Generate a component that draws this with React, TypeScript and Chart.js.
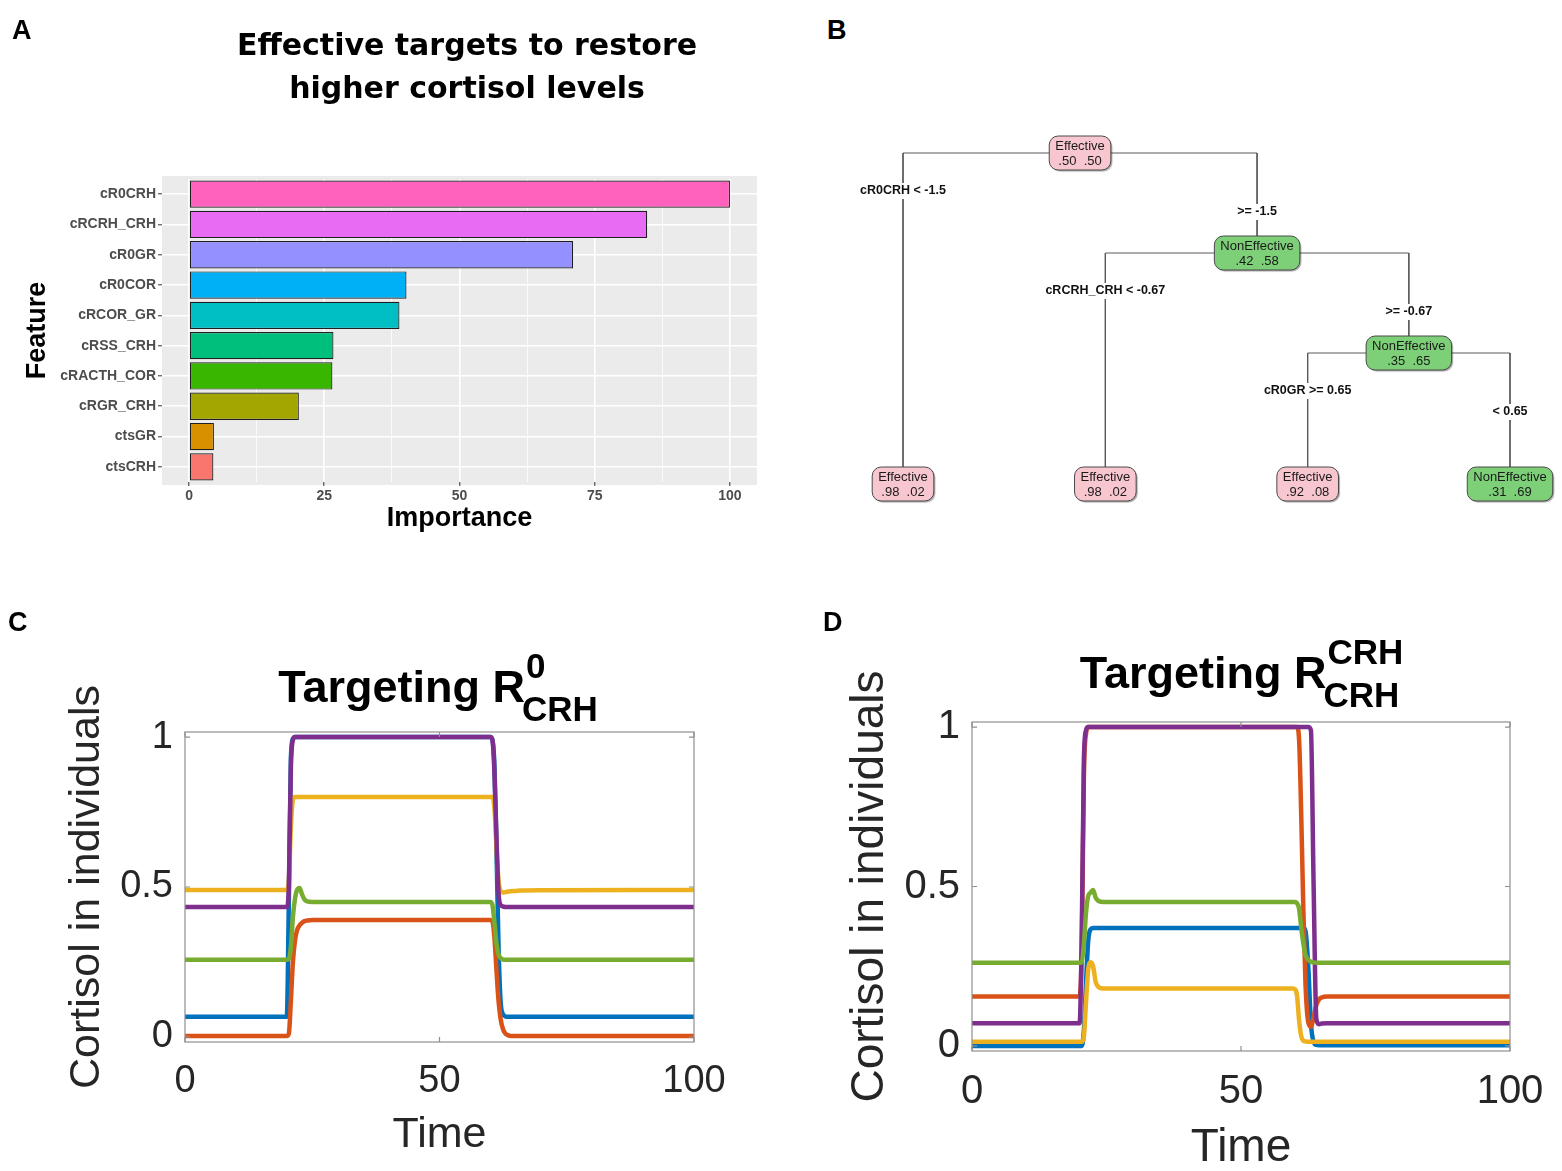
import React, { useEffect, useRef } from 'react';
import { Chart, registerables } from 'chart.js';

Chart.register(...registerables);

const FONT = "'Liberation Sans', Arial, sans-serif";

// ---------- Panel A: feature importance ----------
const features = ['cR0CRH', 'cRCRH_CRH', 'cR0GR', 'cR0COR', 'cRCOR_GR', 'cRSS_CRH', 'cRACTH_COR', 'cRGR_CRH', 'ctsGR', 'ctsCRH'];
const importance = [100, 84.7, 71.0, 40.2, 38.9, 26.7, 26.5, 20.3, 4.6, 4.5];
const featureColors = ['#FF62BC', '#E76BF3', '#9590FF', '#00B0F6', '#00BFC4', '#00BF7D', '#39B600', '#A3A500', '#D89000', '#F8766D'];
const importanceMajor = [0, 25, 50, 75, 100];
const importanceMinor = [12.5, 37.5, 62.5, 87.5];
const titleA = ['Effective targets to restore', 'higher cortisol levels'];

// ---------- Panel B: decision tree ----------
const nodeClass = ['Effective', 'Effective', 'NonEffective', 'Effective', 'NonEffective', 'Effective', 'NonEffective'];
const nodeProbEff = [0.50, 0.98, 0.42, 0.98, 0.35, 0.92, 0.31];
const nodeProbNon = [0.50, 0.02, 0.58, 0.02, 0.65, 0.08, 0.69];
const nodeParent = [-1, 0, 0, 2, 2, 4, 4];
const edgeLabel = ['', 'cR0CRH < -1.5', '>= -1.5', 'cRCRH_CRH < -0.67', '>= -0.67', 'cR0GR >= 0.65', '< 0.65'];

// ---------- Panel C: Targeting R0_CRH ----------
const timeC = [0, 20, 20.4, 20.8, 21.2, 21.6, 22, 22.5, 23, 23.5, 24, 25, 26, 30, 60, 60.4, 60.8, 61.2, 61.6, 62, 62.5, 63, 63.5, 64, 65, 66, 70, 100];
const blueC = [0.067, 0.067, 0.45, 0.93, 0.995, 1, 1, 1, 1, 1, 1, 1, 1, 1, 1, 0.99, 0.9, 0.62, 0.3, 0.12, 0.075, 0.068, 0.067, 0.067, 0.067, 0.067, 0.067, 0.067];
const redC = [0.003, 0.003, 0.01, 0.12, 0.25, 0.32, 0.355, 0.372, 0.381, 0.386, 0.388, 0.39, 0.39, 0.39, 0.39, 0.385, 0.33, 0.22, 0.12, 0.06, 0.025, 0.01, 0.005, 0.003, 0.003, 0.003, 0.003, 0.003];
const yellowC = [0.49, 0.49, 0.52, 0.7, 0.79, 0.8, 0.8, 0.8, 0.8, 0.8, 0.8, 0.8, 0.8, 0.8, 0.8, 0.8, 0.76, 0.63, 0.52, 0.487, 0.482, 0.483, 0.485, 0.486, 0.487, 0.488, 0.489, 0.49];
const purpleC = [0.433, 0.433, 0.5, 0.9, 0.99, 1, 1, 1, 1, 1, 1, 1, 1, 1, 1, 0.99, 0.88, 0.66, 0.48, 0.44, 0.435, 0.433, 0.433, 0.433, 0.433, 0.433, 0.433, 0.433];
const greenC = [0.257, 0.257, 0.26, 0.3, 0.4, 0.46, 0.49, 0.497, 0.475, 0.458, 0.452, 0.45, 0.45, 0.45, 0.45, 0.44, 0.38, 0.31, 0.275, 0.263, 0.258, 0.257, 0.257, 0.257, 0.257, 0.257, 0.257, 0.257];

// ---------- Panel D: Targeting R^CRH_CRH ----------
const timeD = [0, 20, 20.4, 20.8, 21.2, 21.6, 22, 22.5, 23, 23.5, 24, 25, 30, 59.6, 60, 60.4, 60.8, 61.2, 61.6, 62, 62.5, 63, 63.5, 64, 64.5, 65, 66, 68, 70, 100];
const blueD = [0, 0, 0, 0.05, 0.2, 0.33, 0.365, 0.37, 0.37, 0.37, 0.37, 0.37, 0.37, 0.37, 0.37, 0.37, 0.37, 0.37, 0.37, 0.36, 0.25, 0.07, 0.012, 0.003, 0.002, 0.002, 0.002, 0.002, 0.002, 0.002];
const redD = [0.155, 0.155, 0.3, 0.85, 0.98, 1, 1, 1, 1, 1, 1, 1, 1, 1, 1, 1, 0.96, 0.72, 0.42, 0.19, 0.075, 0.06, 0.09, 0.128, 0.146, 0.152, 0.155, 0.155, 0.155, 0.155];
const yellowD = [0.013, 0.013, 0.013, 0.03, 0.14, 0.24, 0.262, 0.25, 0.2, 0.185, 0.181, 0.18, 0.18, 0.18, 0.178, 0.16, 0.08, 0.03, 0.016, 0.014, 0.013, 0.013, 0.013, 0.013, 0.013, 0.013, 0.013, 0.013, 0.013, 0.013];
const purpleD = [0.071, 0.071, 0.35, 0.9, 0.99, 1, 1, 1, 1, 1, 1, 1, 1, 1, 1, 1, 1, 1, 1, 1, 1, 0.99, 0.5, 0.085, 0.068, 0.07, 0.071, 0.071, 0.071, 0.071];
const greenD = [0.261, 0.261, 0.262, 0.32, 0.42, 0.47, 0.48, 0.489, 0.465, 0.455, 0.452, 0.451, 0.451, 0.451, 0.451, 0.448, 0.43, 0.37, 0.32, 0.285, 0.27, 0.264, 0.262, 0.261, 0.261, 0.261, 0.261, 0.261, 0.261, 0.261];

const timeTicks = [0, 50, 100];
const cortisolTicks = [0, 0.5, 1];
const lineColors = { blue: '#0072BD', red: '#D95319', yellow: '#EDB120', purple: '#7E2F8E', green: '#77AC30' };

// ---------------- helpers ----------------
function ChartCanvas({ left, top, width, height, make }: { left: number; top: number; width: number; height: number; make: () => any }) {
  const ref = useRef<HTMLCanvasElement | null>(null);
  useEffect(() => {
    const chart = new Chart(ref.current as HTMLCanvasElement, make());
    return () => chart.destroy();
  }, []);
  return (
    <canvas
      ref={ref}
      width={width}
      height={height}
      style={{ position: 'absolute', left, top, width, height }}
    />
  );
}

// ---------------- Panel A ----------------
function makeA() {
  const isMajor = (v: number) => importanceMajor.includes(v);
  const bgPlugin = {
    id: 'ggbg',
    beforeDraw(chart: any) {
      const { ctx, chartArea } = chart;
      const band = (chartArea.bottom - chartArea.top) / features.length;
      ctx.save();
      ctx.fillStyle = '#EBEBEB';
      ctx.fillRect(chartArea.left, chartArea.top - band * 0.1, chartArea.right - chartArea.left, chartArea.bottom - chartArea.top + band * 0.2);
      ctx.restore();
    },
    afterDraw(chart: any) {
      const { ctx } = chart;
      ctx.save();
      ctx.fillStyle = '#000';
      ctx.font = `bold 30px 'DejaVu Sans', Verdana, sans-serif`;
      ctx.textAlign = 'center';
      ctx.textBaseline = 'middle';
      titleA.forEach((t, i) => ctx.fillText(t, 467, 47 + i * 43));
      ctx.restore();
    },
  };
  return {
    type: 'bar',
    data: {
      labels: features,
      datasets: [
        {
          data: importance,
          backgroundColor: featureColors,
          borderColor: '#1f1f1f',
          borderWidth: 1.2,
          borderSkipped: false,
          categoryPercentage: 0.9,
          barPercentage: 1,
        },
      ],
    },
    options: {
      indexAxis: 'y',
      animation: false,
      responsive: false,
      layout: { padding: { top: 179, left: 0, right: 33, bottom: 10 } },
      plugins: { legend: { display: false }, tooltip: { enabled: false } },
      scales: {
        x: {
          type: 'linear',
          min: -5,
          max: 105,
          afterBuildTicks: (s: any) => {
            s.ticks = [...importanceMajor, ...importanceMinor].sort((a, b) => a - b).map((v) => ({ value: v }));
          },
          afterFit: (s: any) => {
            s.height = 53;
          },
          grid: {
            color: '#FFFFFF',
            lineWidth: (c: any) => (c.tick && isMajor(c.tick.value) ? 1.6 : 0.8),
            tickColor: (c: any) => (c.tick && isMajor(c.tick.value) ? '#333333' : 'rgba(0,0,0,0)'),
            tickLength: 4,
            tickWidth: 1,
          },
          border: { display: false },
          ticks: {
            autoSkip: false,
            maxRotation: 0,
            callback: (v: any) => (isMajor(Number(v)) ? String(v) : ''),
            font: { family: FONT, size: 14, weight: 'bold' },
            color: '#4D4D4D',
            padding: 2,
          },
          title: {
            display: true,
            text: 'Importance',
            font: { family: FONT, size: 27, weight: 'bold' },
            color: '#000',
            padding: { top: 0, bottom: 0 },
          },
        },
        y: {
          type: 'category',
          offset: true,
          afterFit: (s: any) => {
            s.width = 162;
          },
          grid: { color: '#FFFFFF', lineWidth: 1.6, offset: false, tickColor: '#333333', tickLength: 4, tickWidth: 1 },
          border: { display: false },
          ticks: {
            autoSkip: false,
            font: { family: FONT, size: 14, weight: 'bold' },
            color: '#4D4D4D',
            padding: 2,
          },
          title: {
            display: true,
            text: 'Feature',
            font: { family: FONT, size: 27, weight: 'bold' },
            color: '#000',
            padding: { top: 21, bottom: 0 },
          },
        },
      },
    },
    plugins: [bgPlugin],
  };
}

// ---------------- Panel B ----------------
function makeB() {
  const n = nodeParent.length;
  const children: number[][] = Array.from({ length: n }, () => []);
  nodeParent.forEach((p, i) => {
    if (p >= 0) children[p].push(i);
  });
  const depth: number[] = new Array(n).fill(0);
  for (let i = 1; i < n; i++) depth[i] = depth[nodeParent[i]] + 1;
  const leafDepth = 3.31;
  const xs: number[] = new Array(n).fill(0);
  const ys: number[] = new Array(n).fill(0);
  let leafCount = 0;
  const place = (i: number) => {
    if (children[i].length === 0) {
      xs[i] = leafCount++;
      ys[i] = leafDepth;
    } else {
      children[i].forEach(place);
      xs[i] = children[i].reduce((a, c) => a + xs[c], 0) / children[i].length;
      ys[i] = depth[i];
    }
  };
  place(0);
  const leftDrop = 0.38;
  const rightDrop = 0.59;

  const edgeSets = [] as any[];
  for (let i = 1; i < n; i++) {
    const p = nodeParent[i];
    edgeSets.push({
      data: [
        { x: xs[p], y: ys[p] },
        { x: xs[i], y: ys[p] },
        { x: xs[i], y: ys[i] },
      ],
      showLine: true,
      borderColor: '#5a5a5a',
      borderWidth: 1,
      pointRadius: 0,
      clip: false,
    });
  }

  const treePlugin = {
    id: 'tree',
    afterDatasetsDraw(chart: any) {
      const { ctx, scales } = chart;
      ctx.save();
      // edge labels
      ctx.font = `bold 12.5px ${FONT}`;
      ctx.textAlign = 'center';
      ctx.textBaseline = 'middle';
      for (let i = 1; i < n; i++) {
        const p = nodeParent[i];
        const isLeft = children[p][0] === i;
        const px = scales.x.getPixelForValue(xs[i]);
        const py = scales.y.getPixelForValue(ys[p] + (isLeft ? leftDrop : rightDrop));
        const w = ctx.measureText(edgeLabel[i]).width;
        ctx.fillStyle = '#fff';
        ctx.fillRect(px - w / 2 - 2, py - 8, w + 4, 16);
        ctx.fillStyle = '#111';
        ctx.fillText(edgeLabel[i], px, py);
      }
      // nodes
      for (let i = 0; i < n; i++) {
        const cx = scales.x.getPixelForValue(xs[i]);
        const cy = scales.y.getPixelForValue(ys[i]);
        ctx.font = `13px ${FONT}`;
        const probs = `.${Math.round(nodeProbEff[i] * 100).toString().padStart(2, '0')}  .${Math.round(nodeProbNon[i] * 100).toString().padStart(2, '0')}`;
        const w = Math.max(ctx.measureText(nodeClass[i]).width, ctx.measureText(probs).width) + 12;
        const h = 34;
        const fill = nodeClass[i] === 'Effective' ? '#F8C6CE' : '#7DD077';
        ctx.beginPath();
        ctx.roundRect(cx - w / 2, cy - h / 2, w, h, 9);
        ctx.shadowColor = 'rgba(0,0,0,0.35)';
        ctx.shadowOffsetX = 1.5;
        ctx.shadowOffsetY = 1.5;
        ctx.shadowBlur = 1;
        ctx.fillStyle = fill;
        ctx.fill();
        ctx.shadowColor = 'rgba(0,0,0,0)';
        ctx.strokeStyle = '#4a4a4a';
        ctx.lineWidth = 1;
        ctx.stroke();
        ctx.fillStyle = '#1a1a1a';
        ctx.fillText(nodeClass[i], cx, cy - 7);
        ctx.fillText(probs, cx, cy + 8);
      }
      ctx.restore();
    },
  };

  return {
    type: 'scatter',
    data: { datasets: edgeSets },
    options: {
      animation: false,
      responsive: false,
      layout: { padding: { left: 103, right: 52, top: 53, bottom: 56 } },
      plugins: { legend: { display: false }, tooltip: { enabled: false } },
      scales: {
        x: { type: 'linear', display: false, min: 0, max: 3 },
        y: { type: 'linear', display: false, min: 0, max: leafDepth, reverse: true },
      },
    },
    plugins: [treePlugin],
  };
}

// ---------------- Panels C & D ----------------
function makeLines(opts: {
  time: number[];
  series: { color: string; values: number[]; order: number }[];
  yMin: number;
  yMax: number;
  pad: { left: number; right: number; top: number; bottom: number };
  yWidth: number;
  xHeight: number;
  tickSize: number;
  titleSize: number;
  sup: string;
  sub: string;
  baseOffset: number;
}) {
  const boxPlugin = {
    id: 'matlabBox',
    afterDraw(chart: any) {
      const { ctx, chartArea, scales } = chart;
      const { left, right, top, bottom } = chartArea;
      ctx.save();
      ctx.strokeStyle = '#8f8f8f';
      ctx.lineWidth = 1.2;
      ctx.strokeRect(left, top, right - left, bottom - top);
      ctx.beginPath();
      timeTicks.forEach((v) => {
        const x = scales.x.getPixelForValue(v);
        ctx.moveTo(x, bottom);
        ctx.lineTo(x, bottom - 5);
        ctx.moveTo(x, top);
        ctx.lineTo(x, top + 5);
      });
      cortisolTicks.forEach((v) => {
        const y = scales.y.getPixelForValue(v);
        ctx.moveTo(left, y);
        ctx.lineTo(left + 5, y);
        ctx.moveTo(right, y);
        ctx.lineTo(right - 5, y);
      });
      ctx.stroke();

      // title with sub/superscript
      const main = 'Targeting R';
      ctx.fillStyle = '#000';
      ctx.textAlign = 'left';
      ctx.textBaseline = 'alphabetic';
      ctx.font = `bold 45px ${FONT}`;
      const mw = ctx.measureText(main).width;
      ctx.font = `bold 35px ${FONT}`;
      const supW = ctx.measureText(opts.sup).width;
      const subW = ctx.measureText(opts.sub).width;
      const total = mw + Math.max(supW, subW);
      const x0 = (left + right) / 2 - total / 2;
      const base = top - opts.baseOffset;
      ctx.font = `bold 45px ${FONT}`;
      ctx.fillText(main, x0, base);
      ctx.font = `bold 35px ${FONT}`;
      ctx.fillText(opts.sup, x0 + mw + 1, base - 24.5);
      ctx.fillText(opts.sub, x0 + mw - 3, base + 18.5);
      ctx.restore();
    },
  };

  return {
    type: 'line',
    data: {
      datasets: opts.series.map((s) => ({
        data: opts.time.map((t, i) => ({ x: t, y: s.values[i] })),
        borderColor: s.color,
        borderWidth: 4.5,
        pointRadius: 0,
        cubicInterpolationMode: 'monotone',
        fill: false,
        order: s.order,
      })),
    },
    options: {
      animation: false,
      responsive: false,
      layout: { padding: opts.pad },
      plugins: { legend: { display: false }, tooltip: { enabled: false } },
      scales: {
        x: {
          type: 'linear',
          min: 0,
          max: 100,
          afterBuildTicks: (s: any) => {
            s.ticks = timeTicks.map((v) => ({ value: v }));
          },
          afterFit: (s: any) => {
            s.height = opts.xHeight;
          },
          grid: { display: false, drawTicks: false },
          border: { display: false },
          ticks: {
            autoSkip: false,
            maxRotation: 0,
            font: { family: FONT, size: opts.tickSize },
            color: '#262626',
            padding: 17,
            callback: (v: any) => String(v),
          },
          title: {
            display: true,
            text: 'Time',
            font: { family: FONT, size: opts.titleSize, lineHeight: 1 },
            color: '#262626',
            padding: { top: 0, bottom: 0 },
          },
        },
        y: {
          type: 'linear',
          min: opts.yMin,
          max: opts.yMax,
          afterBuildTicks: (s: any) => {
            s.ticks = cortisolTicks.map((v) => ({ value: v }));
          },
          afterFit: (s: any) => {
            s.width = opts.yWidth;
          },
          grid: { display: false, drawTicks: false },
          border: { display: false },
          ticks: {
            autoSkip: false,
            font: { family: FONT, size: opts.tickSize },
            color: '#262626',
            padding: 12,
            callback: (v: any) => String(v),
          },
          title: {
            display: true,
            text: 'Cortisol in individuals',
            font: { family: FONT, size: opts.titleSize, lineHeight: 1 },
            color: '#262626',
            padding: { top: 0, bottom: 0 },
          },
        },
      },
    },
    plugins: [boxPlugin],
  };
}

function makeC() {
  return makeLines({
    time: timeC,
    series: [
      { color: lineColors.blue, values: blueC, order: 5 },
      { color: lineColors.red, values: redC, order: 4 },
      { color: lineColors.yellow, values: yellowC, order: 3 },
      { color: lineColors.purple, values: purpleC, order: 2 },
      { color: lineColors.green, values: greenC, order: 1 },
    ],
    yMin: -0.017,
    yMax: 1.017,
    pad: { left: 66, right: 86, top: 112, bottom: 14 },
    yWidth: 119,
    xHeight: 115,
    tickSize: 38,
    titleSize: 43,
    sup: '0',
    sub: 'CRH',
    baseOffset: 30,
  });
}

function makeD() {
  return makeLines({
    time: timeD,
    series: [
      { color: lineColors.blue, values: blueD, order: 5 },
      { color: lineColors.red, values: redD, order: 4 },
      { color: lineColors.yellow, values: yellowD, order: 3 },
      { color: lineColors.purple, values: purpleD, order: 2 },
      { color: lineColors.green, values: greenD, order: 1 },
    ],
    yMin: -0.016,
    yMax: 1.016,
    pad: { left: 47, right: 52, top: 112, bottom: 0 },
    yWidth: 125,
    xHeight: 120,
    tickSize: 40,
    titleSize: 46,
    sup: 'CRH',
    sub: 'CRH',
    baseOffset: 34,
  });
}

const letterStyle = (left: number, top: number): React.CSSProperties => ({
  position: 'absolute',
  left,
  top,
  font: `bold 27px ${FONT}`,
  lineHeight: '27px',
  color: '#000',
});

export default function App() {
  return (
    <div style={{ position: 'absolute', left: 0, top: 0, width: 1562, height: 1171, background: '#fff', overflow: 'hidden' }}>
      <ChartCanvas left={0} top={0} width={790} height={545} make={makeA} />
      <ChartCanvas left={800} top={100} width={762} height={440} make={makeB} />
      <ChartCanvas left={0} top={620} width={780} height={551} make={makeC} />
      <ChartCanvas left={800} top={610} width={762} height={561} make={makeD} />
      <div style={letterStyle(12, 17)}>A</div>
      <div style={letterStyle(827, 17)}>B</div>
      <div style={letterStyle(8, 609)}>C</div>
      <div style={letterStyle(823, 609)}>D</div>
    </div>
  );
}
